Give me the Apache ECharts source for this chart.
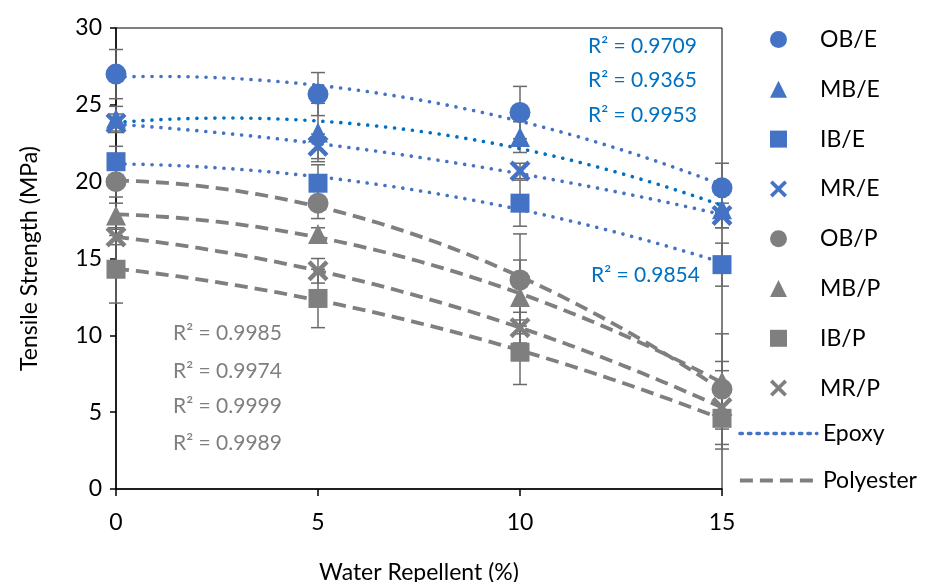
<!DOCTYPE html>
<html>
<head>
<meta charset="utf-8">
<script src="https://cdn.jsdelivr.net/npm/echarts@6/dist/echarts.min.js"></script>
<style>
  html, body { margin: 0; padding: 0; background: #fff; }
  #chart { width: 925px; height: 582px; }
</style>
</head>
<body>
<div id="chart"></div>
<script>
// water repellent content (%)
var xValues = [0, 5, 10, 15];

// mean tensile strength (MPa)
var obE = [27.0, 25.7, 24.5, 19.6];
var mbE = [24.1, 23.2, 22.9, 18.2];
var ibE = [21.3, 19.9, 18.6, 14.6];
var mrE = [23.8, 22.3, 20.7, 17.8];
var obP = [20.0, 18.6, 13.6, 6.5];
var mbP = [17.8, 16.6, 12.5, 7.0];
var ibP = [14.3, 12.4, 8.9, 4.6];
var mrP = [16.4, 14.2, 10.5, 5.3];

// error bars (+/- MPa), estimated
var obEErr = [1.6, 1.4, 1.7, 1.6];
var mbEErr = [0.8, 1.9, 1.0, 1.2];
var ibEErr = [1.0, 1.2, 1.5, 1.4];
var mrEErr = [0.6, 0.8, 0.5, 0.8];
var obPErr = [1.0, 1.0, 3.0, 1.8];
var mbPErr = [0.8, 0.4, 2.4, 3.1];
var ibPErr = [2.2, 1.9, 2.1, 2.0];
var mrPErr = [0.5, 0.8, 1.0, 2.4];

var r2Epoxy = ['0.9709', '0.9365', '0.9953', '0.9854'];
var r2Polyester = ['0.9985', '0.9974', '0.9999', '0.9989'];

var xTicks = [0, 5, 10, 15];
var yTicks = [0, 5, 10, 15, 20, 25, 30];

var BLUE = '#4472C4';
var BLUE2 = '#0070C0';
var GREY = '#7F7F7F';
var FONT = 'Lato';
var FS = 23;

var crossPath = 'path://M0,3 L3,0 L10,7 L17,0 L20,3 L13,10 L20,17 L17,20 L10,13 L3,20 L0,17 L7,10 Z';

var groups = [
    { name: 'OB/E', y: obE, err: obEErr, symbol: 'circle', color: BLUE, trend: 'Epoxy', trendColor: BLUE },
    { name: 'MB/E', y: mbE, err: mbEErr, symbol: 'triangle', color: BLUE, trend: 'Epoxy', trendColor: BLUE2 },
    { name: 'IB/E', y: ibE, err: ibEErr, symbol: 'rect', color: BLUE, trend: 'Epoxy', trendColor: BLUE },
    { name: 'MR/E', y: mrE, err: mrEErr, symbol: crossPath, color: BLUE, trend: 'Epoxy', trendColor: BLUE },
    { name: 'OB/P', y: obP, err: obPErr, symbol: 'circle', color: GREY, trend: 'Polyester', trendColor: GREY },
    { name: 'MB/P', y: mbP, err: mbPErr, symbol: 'triangle', color: GREY, trend: 'Polyester', trendColor: GREY },
    { name: 'IB/P', y: ibP, err: ibPErr, symbol: 'rect', color: GREY, trend: 'Polyester', trendColor: GREY },
    { name: 'MR/P', y: mrP, err: mrPErr, symbol: crossPath, color: GREY, trend: 'Polyester', trendColor: GREY }
];

// 2nd order polynomial trendline (least squares, like Excel)
function polyFit2(xs, ys) {
    var n = xs.length, s1 = 0, s2 = 0, s3 = 0, s4 = 0, t0 = 0, t1 = 0, t2 = 0;
    for (var i = 0; i < n; i++) {
        var x = xs[i], y = ys[i];
        s1 += x; s2 += x * x; s3 += x * x * x; s4 += x * x * x * x;
        t0 += y; t1 += x * y; t2 += x * x * y;
    }
    var m = [[n, s1, s2, t0], [s1, s2, s3, t1], [s2, s3, s4, t2]];
    for (var c = 0; c < 3; c++) {
        for (var r = c + 1; r < 3; r++) {
            var f = m[r][c] / m[c][c];
            for (var k = c; k < 4; k++) m[r][k] -= f * m[c][k];
        }
    }
    var coef = [0, 0, 0];
    for (var r2 = 2; r2 >= 0; r2--) {
        var s = m[r2][3];
        for (var k2 = r2 + 1; k2 < 3; k2++) s -= m[r2][k2] * coef[k2];
        coef[r2] = s / m[r2][r2];
    }
    return coef;
}

function trendData(ys) {
    var c = polyFit2(xValues, ys);
    var out = [];
    for (var x = 0; x <= 15.0001; x += 0.25) {
        out.push([x, c[0] + c[1] * x + c[2] * x * x]);
    }
    return out;
}

function errorBarItem(params, api) {
    var x = api.value(0), y = api.value(1), e = api.value(2);
    var top = api.coord([x, y + e]);
    var bot = api.coord([x, y - e]);
    var hw = 7;
    var style = { stroke: '#6a6a6a', lineWidth: 1.5 };
    return {
        type: 'group',
        children: [
            { type: 'line', shape: { x1: top[0], y1: top[1], x2: bot[0], y2: bot[1] }, style: style },
            { type: 'line', shape: { x1: top[0] - hw, y1: top[1], x2: top[0] + hw, y2: top[1] }, style: style },
            { type: 'line', shape: { x1: bot[0] - hw, y1: bot[1], x2: bot[0] + hw, y2: bot[1] }, style: style }
        ]
    };
}

var series = [];
groups.forEach(function (g) {
    series.push({
        type: 'custom',
        renderItem: errorBarItem,
        encode: { x: 0, y: 1 },
        data: xValues.map(function (x, i) { return [x, g.y[i], g.err[i]]; }),
        z: 1,
        silent: true
    });
});
groups.forEach(function (g) {
    var isEpoxy = g.trend === 'Epoxy';
    series.push({
        name: g.trend,
        type: 'line',
        data: trendData(g.y),
        showSymbol: false,
        symbol: 'none',
        smooth: false,
        z: 2,
        silent: true,
        itemStyle: { color: g.trendColor },
        lineStyle: isEpoxy
            ? { color: g.trendColor, width: 3.6, type: [0.1, 8.9], cap: 'round' }
            : { color: g.trendColor, width: 3.8, type: [13, 7] }
    });
});
groups.forEach(function (g) {
    series.push({
        name: g.name,
        type: 'scatter',
        symbol: g.symbol,
        symbolSize: g.symbol === 'rect' ? 19 : (g.symbol === 'triangle' ? 20 : 21),
        itemStyle: { color: g.color, opacity: 1 },
        data: xValues.map(function (x, i) { return [x, g.y[i]]; }),
        z: 3
    });
});

var textStyleBase = { fontFamily: FONT, fontSize: FS, color: '#000' };
var r2Font = '21px ' + FONT;

var graphics = [];
var epoxyMid = [48, 82, 117];
r2Epoxy.slice(0, 3).forEach(function (r, i) {
    graphics.push({
        type: 'text', left: 588, top: epoxyMid[i] - 12,
        style: { text: 'R² = ' + r, font: r2Font, fill: BLUE2 }
    });
});
graphics.push({
    type: 'text', left: 591, top: 277 - 12,
    style: { text: 'R² = ' + r2Epoxy[3], font: r2Font, fill: BLUE2 }
});
var polyMid = [335, 373, 408, 445];
r2Polyester.forEach(function (r, i) {
    graphics.push({
        type: 'text', left: 173, top: polyMid[i] - 12,
        style: { text: 'R² = ' + r, font: r2Font, fill: GREY }
    });
});

var chart = echarts.init(document.getElementById('chart'), null, { renderer: 'canvas' });
chart.setOption({
    animation: false,
    backgroundColor: '#fff',
    grid: {
        left: 116, right: 203, top: 28, bottom: 93,
        outerBoundsMode: 'none', containLabel: false,
        show: true, borderColor: '#000', borderWidth: 1, backgroundColor: 'transparent'
    },
    xAxis: {
        type: 'value',
        min: xTicks[0], max: xTicks[xTicks.length - 1], interval: 5,
        name: 'Water Repellent (%)',
        nameLocation: 'middle', nameGap: 72,
        nameTextStyle: textStyleBase,
        axisLine: { show: true, lineStyle: { color: '#000', width: 1.5 } },
        axisTick: { show: true, inside: false, length: 7, lineStyle: { color: '#000', width: 1.5 } },
        axisLabel: { margin: 22, fontFamily: FONT, fontSize: FS, color: '#000' },
        splitLine: { show: false }
    },
    yAxis: {
        type: 'value',
        min: yTicks[0], max: yTicks[yTicks.length - 1], interval: 5,
        name: 'Tensile Strength (MPa)',
        nameLocation: 'middle', nameGap: 75,
        nameTextStyle: textStyleBase,
        axisLine: { show: true, lineStyle: { color: '#000', width: 1.5 } },
        axisTick: { show: true, inside: false, length: 6, lineStyle: { color: '#000', width: 1.5 } },
        axisLabel: { margin: 14, fontFamily: FONT, fontSize: FS, color: '#000' },
        splitLine: { show: false }
    },
    legend: [
        {
            data: groups.map(function (g) { return g.name; }),
            orient: 'vertical',
            left: 765, top: 23,
            itemWidth: 17, itemHeight: 17, itemGap: 26.8,
            selectedMode: false,
            textStyle: { fontFamily: FONT, fontSize: FS, color: '#000', lineHeight: 20, padding: [0, 0, 0, 28] }
        },
        {
            data: [
                { name: 'Epoxy', itemStyle: { opacity: 0 },
                  lineStyle: { color: BLUE, width: 3.4, type: [2.5, 6], opacity: 1 } },
                { name: 'Polyester', itemStyle: { opacity: 0 },
                  lineStyle: { color: GREY, width: 3.8, type: [13, 7], opacity: 1 } }
            ],
            orient: 'vertical',
            left: 733, top: 417,
            itemWidth: 77, itemHeight: 14, itemGap: 24,
            selectedMode: false,
            textStyle: { fontFamily: FONT, fontSize: FS, color: '#000', lineHeight: 20, padding: [0, 0, 0, 1] }
        }
    ],
    graphic: graphics,
    series: series
});
</script>
</body>
</html>
